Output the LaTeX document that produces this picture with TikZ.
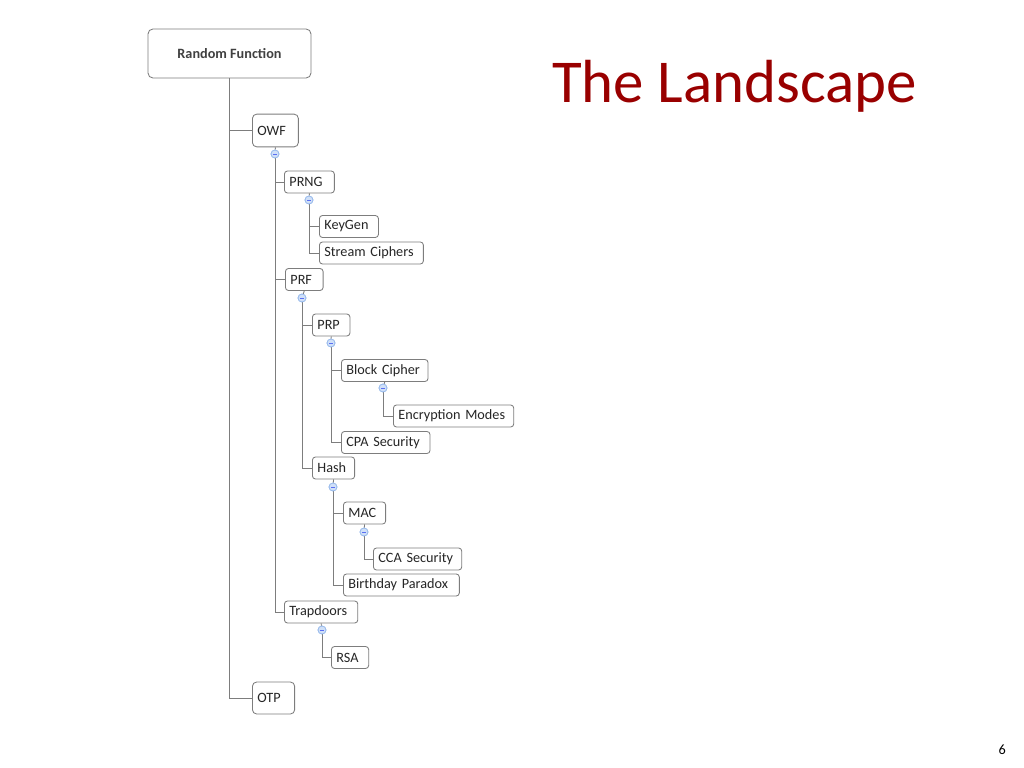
\documentclass[tikz,border=0pt]{standalone}
\usepackage{fontspec}
\setmainfont{Carlito}
\definecolor{titlered}{RGB}{153,0,0}
\definecolor{boxgray}{RGB}{125,125,125}
\definecolor{dotfill}{RGB}{208,224,248}
\definecolor{dotline}{RGB}{150,185,235}
\begin{document}
\begin{tikzpicture}[x=0.703125pt, y=-0.703125pt,
	box/.style = {draw=boxgray, line width=0.6pt, rounded corners=2.2pt, fill=white, anchor=west,
		font=\fontsize{10}{12}\selectfont, text=black!85, align=left, inner xsep=3.5pt, inner ysep=0pt, minimum height=15.5pt},
	big/.style = {box, minimum height=23pt, rounded corners=3pt},
	dot/.style = {circle, draw=dotline, fill=dotfill, line width=0.5pt, minimum size=5.6pt, inner sep=0pt,
		path picture={\draw[dotline!60!blue, line width=0.4pt] ([xshift=-1.2pt]path picture bounding box.center) -- ([xshift=1.2pt]path picture bounding box.center);}},
	link/.style = {draw=boxgray, line width=0.6pt}]
	\useasboundingbox (0,0) rectangle (1024,768);
	% title and page number
	\node[anchor=base west, text=titlered, font=\fontsize{42.8}{50}\selectfont, inner sep=0pt] (title) at (552,103) {The Landscape};
	\node[anchor=base east, font=\fontsize{10}{12}\selectfont, inner sep=0pt] (page) at (1006,754) {6};
	% tree
	\node[draw=boxgray, line width=0.6pt, rounded corners=3.5pt, minimum width=114.6pt, minimum height=34.5pt, font=\bfseries\fontsize{10}{12}\selectfont, text=black!75] (root) at (229.5,53.5) {Random Function};
	\node[big, text width=25.3pt] (owf) at (252,130.5) {OWF};
	\node[dot] (d1) at (275,154) {};
	\node[box, text width=28.1pt] (prng) at (284,182) {PRNG};
	\node[dot] (d2) at (309,200) {};
	\node[box, text width=34.5pt] (keygen) at (319,226.5) {KeyGen};
	\node[box, text width=66.1pt] (stream) at (319,253) {Stream Ciphers};
	\node[box, text width=19.5pt] (prf) at (285,279.5) {PRF};
	\node[dot] (d3) at (302,298) {};
	\node[box, text width=19.4pt] (prp) at (312,325) {PRP};
	\node[dot] (d4) at (331,343) {};
	\node[box, text width=53.9pt] (block) at (341,370.5) {Block Cipher};
	\node[dot] (d5) at (383,388) {};
	\node[box, text width=77.6pt] (modes) at (393,416) {Encryption Modes};
	\node[box, text width=55.3pt] (cpa) at (341,442.5) {CPA Security};
	\node[box, text width=22.7pt] (hash) at (312,468) {Hash};
	\node[dot] (d6) at (333,487) {};
	\node[box, text width=22.7pt] (mac) at (343,513) {MAC};
	\node[dot] (d7) at (364,532) {};
	\node[box, text width=55.1pt] (cca) at (373,559) {CCA Security};
	\node[box, text width=74.5pt] (birthday) at (343,585) {Birthday Paradox};
	\node[box, text width=44.6pt] (trap) at (284,612) {Trapdoors};
	\node[dot] (d8) at (322,630) {};
	\node[box, text width=19.2pt] (rsa) at (331,657.5) {RSA};
	\node[big, text width=22.7pt, minimum height=22.5pt] (otp) at (252,698) {OTP};
	% connectors
	\draw[link] (root.south) |- (owf.west);
	\draw[link] (root.south) |- (otp.west);
	\draw[link] (owf.south) -- (d1);
	\draw[link] (d1) |- (prng.west);
	\draw[link] (d1) |- (prf.west);
	\draw[link] (d1) |- (trap.west);
	\draw[link] (prng.south) -- (d2);
	\draw[link] (d2) |- (keygen.west);
	\draw[link] (d2) |- (stream.west);
	\draw[link] (prf.south) -- (d3);
	\draw[link] (d3) |- (prp.west);
	\draw[link] (d3) |- (hash.west);
	\draw[link] (prp.south) -- (d4);
	\draw[link] (d4) |- (block.west);
	\draw[link] (d4) |- (cpa.west);
	\draw[link] (block.south) -- (d5);
	\draw[link] (d5) |- (modes.west);
	\draw[link] (hash.south) -- (d6);
	\draw[link] (d6) |- (mac.west);
	\draw[link] (d6) |- (birthday.west);
	\draw[link] (mac.south) -- (d7);
	\draw[link] (d7) |- (cca.west);
	\draw[link] (trap.south) -- (d8);
	\draw[link] (d8) |- (rsa.west);
	% redraw dots on top
	\foreach \d in {d1,d2,d3,d4,d5,d6,d7,d8}
		\node[dot] at (\d) {};
\end{tikzpicture}
\end{document}
